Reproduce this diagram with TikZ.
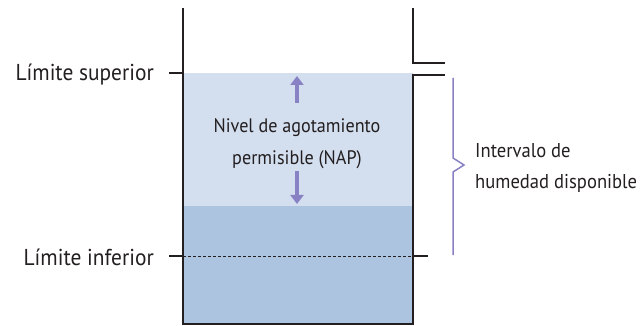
\documentclass[tikz,border=0pt]{standalone}
\usepackage{fontspec}
\setmainfont{PT Sans}[FakeStretch=0.93]
\usetikzlibrary{arrows.meta}
\definecolor{lightw}{RGB}{211,222,239}
\definecolor{darkw}{RGB}{173,196,224}
\definecolor{purp}{RGB}{136,130,196}
\definecolor{wallc}{RGB}{35,31,32}
\tikzset{
  wall/.style={draw=wallc, line width=1.8pt},
  lbl/.style={font=\fontsize{19.5}{32}\selectfont, text=wallc, inner sep=0pt},
  sidelbl/.style={font=\fontsize{23}{32}\selectfont, text=wallc, inner sep=0pt},
  arr/.style={draw=purp, line width=4pt, -{Triangle[length=9pt,width=13pt]}},
  bracketc/.style={draw=purp, line width=1.5pt}
}
\begin{document}
\begin{tikzpicture}[x=1pt,y=-1pt]
\useasboundingbox (0,0) rectangle (643,326);
\fill[lightw] (183,73) rectangle (413,206);
\fill[darkw] (183,206) rectangle (413,324);
\draw[wallc, densely dashed, line width=0.8pt] (183,256) -- (413,256);
\draw[wall] (183,8) -- (183,324) -- (413,324) -- (413,75) -- (445,75);
\draw[wall] (413,8) -- (413,63) -- (445,63);
\draw[wall] (169,73) -- (183,73);
\draw[wall] (169,256) -- (183,256);
\draw[wall] (413,256) -- (428,256);
\draw[bracketc] (453,78) -- (453,158) -- (464,165) -- (453,172) -- (453,255);
\node[sidelbl, anchor=east] (sup) at (154,75) {Límite superior};
\node[sidelbl, anchor=east] (inf) at (154,257) {Límite inferior};
\node[lbl, align=center] (nap) at (297,144) {Nivel de agotamiento\\permisible (NAP)};
\node[lbl, font=\fontsize{20}{32}\selectfont, align=left, anchor=west] (int) at (475,168) {Intervalo de\\humedad disponible};
\coordinate (upA) at (297,103);
\coordinate (upB) at (297,76);
\coordinate (dnA) at (297,171);
\coordinate (dnB) at (297,204);
\draw[arr] (upA) -- (upB);
\draw[arr] (dnA) -- (dnB);
\end{tikzpicture}
\end{document}
